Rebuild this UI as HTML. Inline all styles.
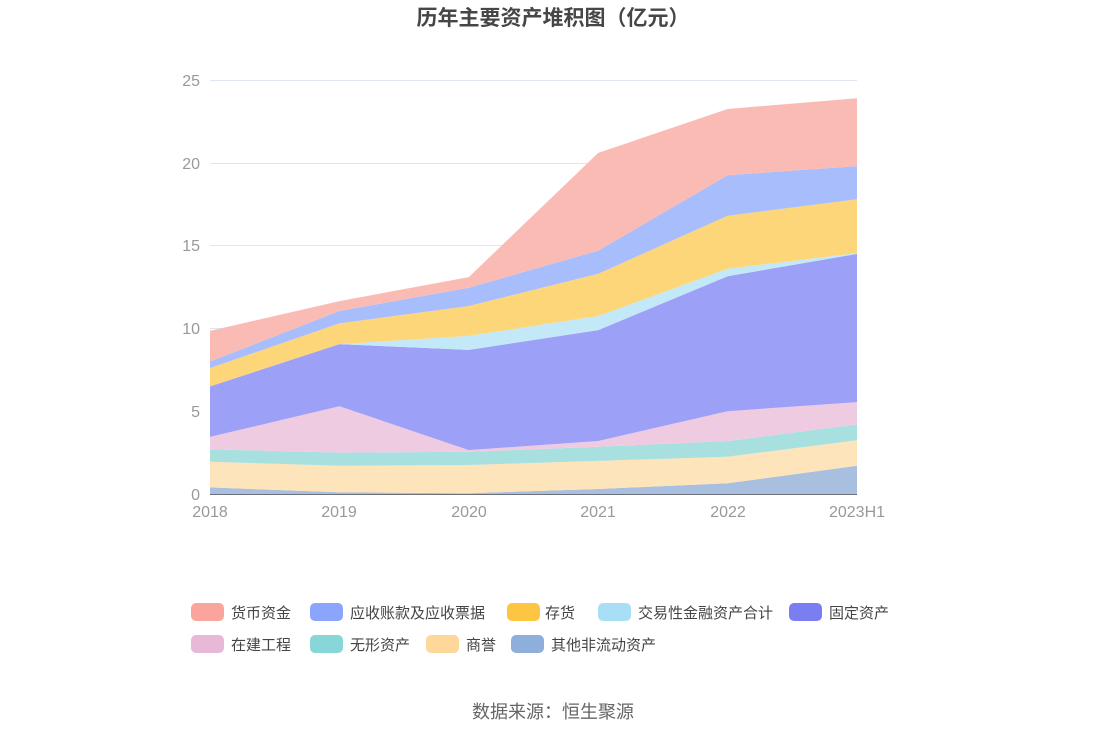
<!DOCTYPE html>
<html><head><meta charset="utf-8"><style>
body{margin:0;background:#fff;width:1106px;height:737px;overflow:hidden;font-family:"Liberation Sans","Noto Sans CJK SC",sans-serif}
</style></head><body>
<svg id="s" width="1106" height="737" xmlns="http://www.w3.org/2000/svg" font-family="Liberation Sans, Noto Sans CJK SC, sans-serif">
<text x="553" y="25" text-anchor="middle" font-size="21" font-weight="bold" fill="#464646">历年主要资产堆积图（亿元）</text>
<g stroke="#e0e6f1" stroke-width="1">
<line x1="210" x2="857" y1="80.5" y2="80.5"/><line x1="210" x2="857" y1="163.5" y2="163.5"/><line x1="210" x2="857" y1="245.5" y2="245.5"/><line x1="210" x2="857" y1="328.5" y2="328.5"/><line x1="210" x2="857" y1="411.5" y2="411.5"/>
</g>
<g id="areas"></g>
<line x1="210" x2="857" y1="494.5" y2="494.5" stroke="#6e7079"/>
<g font-size="16" fill="#999" text-anchor="end">
<text x="200" y="86">25</text><text x="200" y="169">20</text><text x="200" y="251">15</text><text x="200" y="334">10</text><text x="200" y="417">5</text><text x="200" y="500">0</text>
</g>
<g font-size="16" fill="#999" text-anchor="middle">
<text x="210" y="517">2018</text><text x="339" y="517">2019</text><text x="469" y="517">2020</text><text x="598" y="517">2021</text><text x="728" y="517">2022</text><text x="857" y="517">2023H1</text>
</g>
<g font-size="15" fill="#444">
<rect x="191" y="603" width="33" height="18" rx="5" fill="#f9a59b"/><text x="231" y="618">货币资金</text>
<rect x="310" y="603" width="33" height="18" rx="5" fill="#8aa5fb"/><text x="350" y="618">应收账款及应收票据</text>
<rect x="507" y="603" width="33" height="18" rx="5" fill="#fdc542"/><text x="545" y="618">存货</text>
<rect x="598" y="603" width="33" height="18" rx="5" fill="#a9def7"/><text x="638" y="618">交易性金融资产合计</text>
<rect x="789" y="603" width="33" height="18" rx="5" fill="#7b7ef0"/><text x="829" y="618">固定资产</text>
<rect x="191" y="635" width="33" height="18" rx="5" fill="#e8b8d8"/><text x="231" y="650">在建工程</text>
<rect x="310" y="635" width="33" height="18" rx="5" fill="#87d7d8"/><text x="350" y="650">无形资产</text>
<rect x="426" y="635" width="33" height="18" rx="5" fill="#fdd89a"/><text x="466" y="650">商誉</text>
<rect x="511" y="635" width="33" height="18" rx="5" fill="#8eaedc"/><text x="551" y="650">其他非流动资产</text>
</g>
<text x="553" y="718" text-anchor="middle" font-size="18" fill="#666">数据来源：恒生聚源</text>
</svg>
<script>
var xs=[210,339.4,468.8,598.2,727.6,857];
var cum=[
[0.4,0.1,0.05,0.3,0.65,1.7],
[1.95,1.7,1.75,2.0,2.25,3.25],
[2.7,2.5,2.55,2.85,3.2,4.2],
[3.45,5.3,2.65,3.2,5.0,5.55],
[6.5,9.05,8.7,9.9,13.15,14.5],
[6.5,9.05,9.55,10.75,13.6,14.55],
[7.6,10.3,11.35,13.3,16.8,17.8],
[8.0,11.05,12.45,14.7,19.25,19.8],
[9.85,11.65,13.1,20.6,23.25,23.9]];
var cols=["#a9bfe0","#fde4ba","#a8e0e0","#efcbe2","#9da0f7","#c3e8f8","#fdd67a","#a8bdfc","#fabbb5"];
function y(v){return 494-v*16.56;}
var g=document.getElementById("areas"),h="";
for(var i=0;i<cum.length;i++){
 var pts=[];
 for(var j=0;j<6;j++)pts.push(xs[j]+","+y(cum[i][j]).toFixed(1));
 for(var j=5;j>=0;j--)pts.push(xs[j]+","+y(i?cum[i-1][j]:0).toFixed(1));
 h+='<polygon points="'+pts.join(" ")+'" fill="'+cols[i]+'"/>';
}
g.innerHTML=h;
</script>
</body></html>
